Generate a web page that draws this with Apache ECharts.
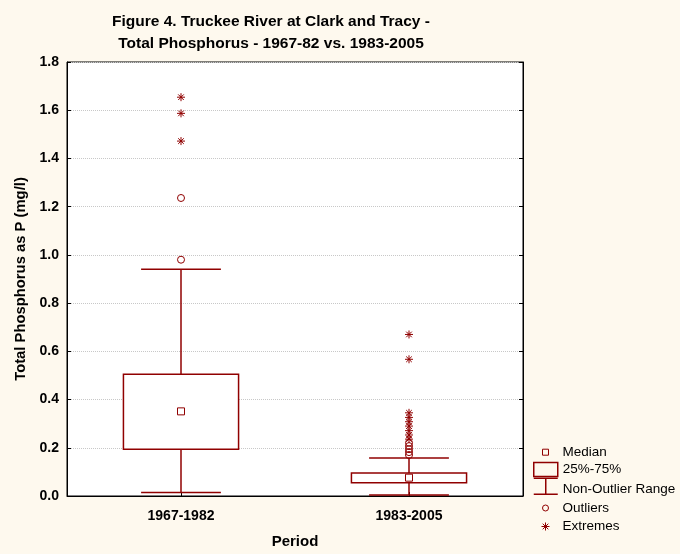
<!DOCTYPE html>
<html>
<head>
<meta charset="utf-8">
<script src="https://cdn.jsdelivr.net/npm/echarts@6/dist/echarts.min.js"></script>
<style>
html,body{margin:0;padding:0;background:#FEF9EE;}
#chart{width:680px;height:554px;}
</style>
</head>
<body>
<div id="chart"></div>
<script>
// ---- data ----
var categories = ['1967-1982', '1983-2005'];
var whiskerLow = [0.014, 0.004];
var q1 = [0.194, 0.055];
var median = [0.351, 0.076];
var q3 = [0.505, 0.095];
var whiskerHigh = [0.940, 0.158];
var outliers1 = [0.980, 1.236];
var outliers2 = [0.170, 0.182, 0.194, 0.207, 0.221];
var extremes1 = [1.472, 1.587, 1.654];
var extremes2 = [0.236, 0.253, 0.271, 0.290, 0.308, 0.326, 0.345, 0.567, 0.670];
var yTicks = ['0.0','0.2','0.4','0.6','0.8','1.0','1.2','1.4','1.6','1.8'];

var RED = '#900000';
var FONT = 'Liberation Sans, Arial, sans-serif';
var STAR = 'path://M0,5H10M5,0V10M1.5,1.5L8.5,8.5M8.5,1.5L1.5,8.5';
var SQUARE = 'path://M0,0H10V10H0Z';
var IBEAM = 'path://M0,0H24M12,0V16M0,16H24';

var boxData = categories.map(function (c, i) { return [i, q1[i], q3[i]]; });
var whiskerData = categories.map(function (c, i) { return [i, whiskerLow[i], q1[i], q3[i], whiskerHigh[i]]; });
var medianData = median.map(function (v, i) { return [i, v]; });
var outlierData = outliers1.map(function (v) { return [0, v]; }).concat(outliers2.map(function (v) { return [1, v]; }));
var extremeData = extremes1.map(function (v) { return [0, v]; }).concat(extremes2.map(function (v) { return [1, v]; }));

function renderBox(params, api) {
  var ci = api.value(0);
  var pLo = api.coord([ci, api.value(1)]);
  var pHi = api.coord([ci, api.value(2)]);
  var band = api.size([1, 0])[0];
  var w = band * 0.505;
  return {
    type: 'rect',
    shape: { x: pLo[0] - w / 2, y: pHi[1], width: w, height: pLo[1] - pHi[1] },
    style: { fill: '#ffffff', stroke: RED, lineWidth: 1.5 }
  };
}
function renderWhisker(params, api) {
  var ci = api.value(0);
  var pMin = api.coord([ci, api.value(1)]);
  var pQ1 = api.coord([ci, api.value(2)]);
  var pQ3 = api.coord([ci, api.value(3)]);
  var pMax = api.coord([ci, api.value(4)]);
  var band = api.size([1, 0])[0];
  var cw = band * 0.35;
  var st = { stroke: RED, lineWidth: 1.5, fill: 'none' };
  var x = pMin[0];
  return {
    type: 'group',
    children: [
      { type: 'line', shape: { x1: x, y1: pMin[1], x2: x, y2: pQ1[1] }, style: st },
      { type: 'line', shape: { x1: x, y1: pQ3[1], x2: x, y2: pMax[1] }, style: st },
      { type: 'line', shape: { x1: x - cw / 2, y1: pMin[1], x2: x + cw / 2, y2: pMin[1] }, style: st },
      { type: 'line', shape: { x1: x - cw / 2, y1: pMax[1], x2: x + cw / 2, y2: pMax[1] }, style: st }
    ]
  };
}

function mkLegend(name, icon, h, left, top, strokeW, padTop) {
  return {
    show: true, selectedMode: false, orient: 'vertical', padding: 0,
    left: left, top: top, itemWidth: 24, itemHeight: h, itemGap: 0,
    data: [{ name: name, icon: icon,
      itemStyle: { color: 'rgba(0,0,0,0)', borderColor: RED, borderWidth: strokeW } }],
    formatter: '{a|{name}}',
    textStyle: { fontFamily: FONT, fontSize: 13.5, color: '#000',
      rich: { a: { fontFamily: FONT, fontSize: 13.5, color: '#000', padding: [padTop || 0, 0, 0, 0] } } }
  };
}

var chart = echarts.init(document.getElementById('chart'));
chart.setOption({
  backgroundColor: '#FEF9EE',
  animation: false,
  title: {
    text: 'Figure 4. Truckee River at Clark and Tracy -\nTotal Phosphorus - 1967-82 vs. 1983-2005',
    left: 271, top: 11, padding: 0, textAlign: 'center',
    textStyle: { fontFamily: FONT, fontSize: 15.5, fontWeight: 'bold', color: '#000', lineHeight: 22 }
  },
  legend: [
    mkLegend('Median', SQUARE, 6, 542, 445.2, 1, 0),
    mkLegend('25%-75%', 'rect', 14, 533, 461.7, 1.5, 0),
    mkLegend('Non-Outlier Range', IBEAM, 17, 533, 477.5, 1.5, 6),
    mkLegend('Outliers', 'circle', 6, 542, 501, 1, 0),
    mkLegend('Extremes', STAR, 8, 541, 519.5, 1, 0)
  ],
  grid: {
    left: 67, top: 62, width: 456, height: 434,
    show: true, backgroundColor: '#ffffff', borderColor: '#000', borderWidth: 1
  },
  xAxis: {
    type: 'category', data: categories,
    name: 'Period', nameLocation: 'middle', nameGap: 38,
    nameTextStyle: { fontFamily: FONT, fontSize: 15, fontWeight: 'bold', color: '#000' },
    axisLine: { lineStyle: { color: '#000', width: 1 } },
    axisTick: { show: true, inside: true, alignWithLabel: true, length: 4, lineStyle: { color: '#000' } },
    axisLabel: { fontFamily: FONT, fontSize: 14, fontWeight: 'bold', color: '#000', margin: 13 },
    splitLine: { show: false }
  },
  yAxis: [{
    type: 'value', min: 0, max: 1.8, interval: 0.2,
    name: 'Total Phosphorus as P (mg/l)', nameLocation: 'middle', nameGap: 30,
    nameTextStyle: { fontFamily: FONT, fontSize: 14.8, fontWeight: 'bold', color: '#000' },
    axisLine: { show: true, lineStyle: { color: '#000', width: 1 } },
    axisTick: { show: true, inside: true, length: 4, lineStyle: { color: '#000' } },
    axisLabel: { fontFamily: FONT, fontSize: 14, fontWeight: 'bold', color: '#000', margin: 8,
      formatter: function (v) { return yTicks[Math.round(v / 0.2)]; } },
    splitLine: { show: true, lineStyle: { color: '#c8c8c8', type: 'dotted', width: 1 } }
  }, {
    type: 'value', min: 0, max: 1.8, interval: 0.2, position: 'right',
    axisLine: { show: true, lineStyle: { color: '#000', width: 1 } },
    axisTick: { show: true, inside: true, length: 4, lineStyle: { color: '#000' } },
    axisLabel: { show: false }, splitLine: { show: false }
  }],
  series: [
    { name: 'Non-Outlier Range', type: 'custom', renderItem: renderWhisker, data: whiskerData,
      itemStyle: { color: RED }, encode: { x: 0, y: [1, 2, 3, 4] }, z: 2 },
    { name: '25%-75%', type: 'custom', renderItem: renderBox, data: boxData,
      itemStyle: { color: RED }, encode: { x: 0, y: [1, 2] }, z: 3 },
    { name: 'Median', type: 'scatter', data: medianData, symbol: 'rect', symbolSize: 7,
      itemStyle: { color: '#ffffff', borderColor: RED, borderWidth: 1, opacity: 1 }, z: 5 },
    { name: 'Outliers', type: 'scatter', data: outlierData, symbol: 'circle', symbolSize: 7,
      itemStyle: { color: 'rgba(0,0,0,0)', borderColor: RED, borderWidth: 1, opacity: 1 }, z: 5 },
    { name: 'Extremes', type: 'scatter', data: extremeData, symbol: STAR, symbolSize: 8,
      itemStyle: { color: 'rgba(0,0,0,0)', borderColor: RED, borderWidth: 1, opacity: 1 }, z: 5 }
  ]
});
</script>
</body>
</html>
